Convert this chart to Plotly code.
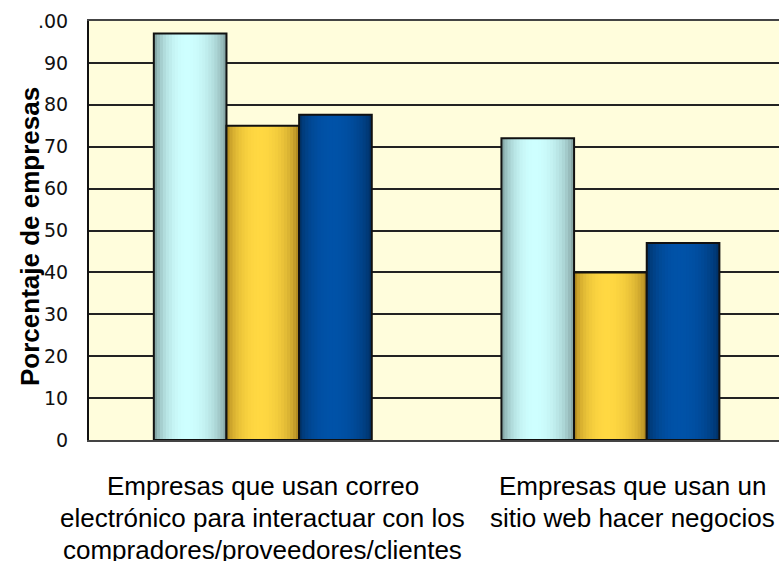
import plotly.graph_objects as go

# ---- data ----
categories = [
    "Empresas que usan correo<br>electrónico para interactuar con los<br>compradores/proveedores/clientes",
    "Empresas que usan un<br>sitio web hacer negocios",
]
series_names = ["Serie 1", "Serie 2", "Serie 3"]
serie_1 = [97, 72]
serie_2 = [75, 40]
serie_3 = [77.6, 47]
y_tick_vals = [0, 10, 20, 30, 40, 50, 60, 70, 80, 90, 100]
y_tick_text = ["0", "10", "20", "30", "40", "50", "60", "70", "80", "90", ".00"]
y_title = "Porcentaje de empresas"

# ---- styling ----
series_values = [serie_1, serie_2, serie_3]
edge_left = [(110, 140, 140), (165, 124, 26), (0, 44, 92)]
edge_right = [(116, 144, 144), (158, 118, 26), (0, 42, 88)]
centers = [(206, 255, 255), (255, 216, 66), (0, 82, 168)]

cat_pos = list(range(len(categories)))
group_w = 0.627
bar_w = group_w / len(series_values)
N = 24

def mix(a, b, f):
    return tuple(int(round(a[j] + (b[j] - a[j]) * f)) for j in range(3))

def bright(t):
    p = 0.45
    if t < p:
        b = 1 - ((t - p) / p) ** 2
    else:
        b = 1 - ((t - p) / (1 - p)) ** 2
    return max(0.0, b) ** 0.6

fig = go.Figure()
for i, vals in enumerate(series_values):
    base = -group_w / 2 + i * bar_w
    for k in range(N):
        t = (k + 0.5) / N
        edge = edge_left[i] if t < 0.45 else edge_right[i]
        c = mix(edge, centers[i], bright(t))
        sw = bar_w / N
        w = sw * 2 if k < N - 1 else sw
        fig.add_trace(go.Bar(
            x=cat_pos, y=vals,
            offset=base + k * sw, width=w,
            marker=dict(color="rgb(%d,%d,%d)" % c, line=dict(width=0)),
            showlegend=False, hoverinfo="skip",
        ))
    fig.add_trace(go.Bar(
        x=cat_pos, y=vals, name=series_names[i],
        offset=base, width=bar_w,
        marker=dict(color="rgba(0,0,0,0)", line=dict(width=2, color="#111")),
        showlegend=False, hoverinfo="skip",
    ))

label_font = dict(family="Liberation Sans, Arial", size=26, color="black")
annotations = []
label_xshift = [0, 22]
for ci, label in enumerate(categories):
    for j, line in enumerate(label.split("<br>")):
        annotations.append(dict(
            text=line, x=cat_pos[ci], xref="x", y=0, yref="paper",
            yanchor="top", xanchor="center", yshift=-(29 + 32 * j),
            xshift=label_xshift[ci], showarrow=False, font=label_font))
annotations.append(dict(
    text=y_title, x=0, xref="paper", y=0.5, yref="paper",
    xanchor="center", yanchor="middle", xshift=-59, yshift=-6.5,
    textangle=-90, showarrow=False,
    font=dict(family="Liberation Sans, Arial", size=26, color="black", weight="bold")))

fig.update_layout(
    width=779, height=561,
    margin=dict(l=89, r=0, t=21, b=121),
    paper_bgcolor="white",
    plot_bgcolor="#FFFDDC",
    barmode="overlay",
    showlegend=False,
    xaxis=dict(
        range=[-0.5, 1.485], showticklabels=False, ticks="",
        showgrid=False, zeroline=False,
        showline=True, linecolor="#444", linewidth=2, mirror=True,
    ),
    yaxis=dict(
        range=[0, 100], tickvals=y_tick_vals, ticktext=y_tick_text,
        ticks="", ticklabelstandoff=15,
        tickfont=dict(family="DejaVu Sans", size=19, color="#111"),
        showgrid=True, gridcolor="#222", gridwidth=2, zeroline=False,
        showline=True, linecolor="#111", linewidth=2,
    ),
    annotations=annotations,
)

fig.write_html(
    "out.html",
    config={"displayModeBar": False},
    post_script="document.body.style.margin='0';document.body.style.overflow='hidden';",
)
